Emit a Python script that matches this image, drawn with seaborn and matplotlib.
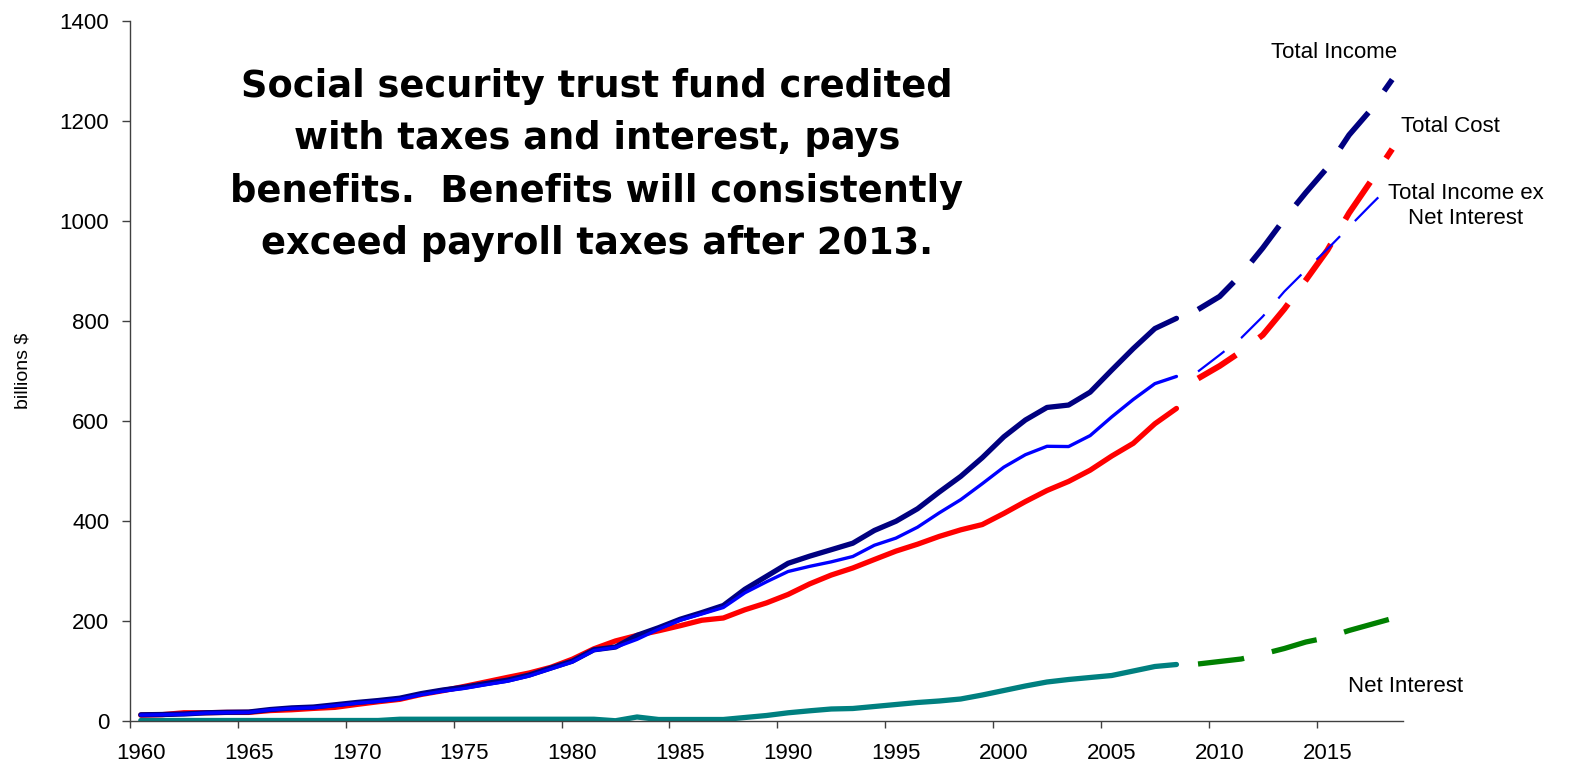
import matplotlib
matplotlib.use("Agg")
import matplotlib.pyplot as plt
import seaborn as sns
import pandas as pd

# Social Security (OASDI) trust fund operations, billions of dollars
hist_years = list(range(1960, 2009))
proj_years = list(range(2009, 2019))

total_income_hist = [
    12.4, 13.0, 14.0, 16.4, 17.4, 17.9, 22.9, 26.2, 27.9, 32.4,
    37.0, 40.9, 45.6, 54.8, 62.0, 67.6, 75.0, 81.7, 91.9, 105.9,
    119.7, 142.4, 147.9, 171.3, 186.6, 203.5, 216.8, 231.0, 263.5, 289.4,
    315.4, 329.7, 342.6, 355.6, 381.1, 399.5, 424.5, 457.7, 489.2, 526.6,
    568.4, 602.0, 627.1, 631.9, 657.7, 701.8, 744.9, 784.9, 805.3,
]
income_ex_interest_hist = [
    11.9, 12.5, 13.5, 15.9, 16.8, 17.3, 22.3, 25.2, 26.6, 30.8,
    35.5, 39.1, 43.6, 52.6, 59.5, 65.2, 72.6, 79.6, 90.0, 104.0,
    117.9, 140.8, 147.3, 163.3, 183.6, 201.6, 214.0, 227.0, 256.4, 278.4,
    299.0, 309.3, 318.3, 329.0, 351.5, 365.8, 387.6, 416.1, 442.6, 474.6,
    507.7, 532.6, 549.4, 548.9, 570.8, 608.2, 643.1, 674.7, 689.1,
]
total_cost_hist = [
    11.8, 12.7, 16.5, 16.5, 17.2, 17.2, 20.9, 22.5, 25.2, 27.3,
    33.1, 38.5, 43.3, 53.1, 60.6, 69.2, 78.2, 87.3, 96.0, 107.3,
    123.6, 144.4, 160.1, 171.2, 180.4, 190.6, 201.5, 206.0, 222.5, 236.2,
    253.1, 274.2, 291.9, 306.0, 323.0, 339.8, 353.6, 369.1, 382.3, 392.9,
    415.1, 438.9, 461.0, 479.1, 501.6, 529.9, 555.4, 594.5, 625.1,
]
net_interest_hist = [
    1.0, 1.0, 1.0, 1.0, 1.0, 1.0, 1.0, 1.0, 1.0, 1.0,
    1.0, 1.0, 3.5, 3.5, 3.5, 3.5, 3.5, 3.5, 3.5, 3.5,
    3.5, 3.5, 0.5, 8.0, 3.0, 3.0, 3.0, 3.0, 7.0, 11.0,
    16.4, 20.4, 24.0, 25.0, 29.0, 33.0, 37.0, 40.0, 44.0, 52.0,
    61.0, 70.0, 78.0, 83.0, 87.0, 91.0, 100.0, 109.0, 113.0,
]

total_income_proj = [823, 849, 893, 946, 1004, 1057, 1107, 1172, 1222, 1283]
income_ex_interest_proj = [699, 732, 766, 809, 859, 902, 944, 988, 1032, 1075]
total_cost_proj = [685, 710, 739, 772, 824, 882, 942, 1016, 1079, 1144]
net_interest_proj = [114, 119, 124, 134, 145, 158, 167, 181, 193, 205]

tick_years = [1960, 1965, 1970, 1975, 1980, 1985, 1990, 1995, 2000, 2005, 2010, 2015]
y_ticks = [0, 200, 400, 600, 800, 1000, 1200, 1400]

headline = ("Social security trust fund credited\n"
            "with taxes and interest, pays\n"
            "benefits.  Benefits will consistently\n"
            "exceed payroll taxes after 2013.")

NAVY, BLUE, RED, TEAL, GREEN = "#000080", "#0000FF", "#FF0000", "#008080", "#008000"

sns.set_theme(style="white")
plt.rcParams["font.family"] = ["Liberation Sans", "DejaVu Sans"]
plt.rcParams["text.color"] = "black"

fig = plt.figure(figsize=(15.7, 7.7), dpi=100)
ax = fig.add_axes([130 / 1570, 1 - 721 / 770, (1403 - 130) / 1570, 700 / 770])

hist = pd.DataFrame({
    "year": hist_years,
    "income": total_income_hist,
    "ex_interest": income_ex_interest_hist,
    "cost": total_cost_hist,
    "interest": net_interest_hist,
})
proj = pd.DataFrame({
    "year": proj_years,
    "income": total_income_proj,
    "ex_interest": income_ex_interest_proj,
    "cost": total_cost_proj,
    "interest": net_interest_proj,
})

# historical series: solid lines
solid_specs = [
    ("interest", TEAL, 3.8),
    ("cost", RED, 3.8),
    ("income", NAVY, 3.8),
    ("ex_interest", BLUE, 2.4),
]
for col, color, lw in solid_specs:
    sns.lineplot(data=hist, x="year", y=col, ax=ax, color=color, linewidth=lw,
                 solid_capstyle="round", solid_joinstyle="round")

# projected series: long dashes
dash_specs = [
    ("interest", GREEN, 3.8, (8.8, 5.4)),
    ("cost", RED, 4.3, (7.5, 4.8)),
    ("income", NAVY, 4.0, (8.2, 4.8)),
    ("ex_interest", BLUE, 1.6, (15.0, 9.5)),
]
for col, color, lw, dash in dash_specs:
    sns.lineplot(data=proj, x="year", y=col, ax=ax, color=color, linewidth=lw)
    line = ax.lines[-1]
    line.set_dashes(dash)
    line.set_dash_capstyle("butt")

# category-style x axis: tick marks between years, labels centred on years
ax.set_xlim(1959.5, 2018.5)
ax.set_ylim(0, 1400)
ax.set_xticks([y - 0.5 for y in tick_years])
ax.set_xticklabels([""] * len(tick_years))
ax.set_xticks(tick_years, minor=True)
ax.set_xticklabels([str(y) for y in tick_years], minor=True)
ax.set_yticks(y_ticks)
ax.set_yticklabels([str(v) for v in y_ticks])

ax.tick_params(axis="x", which="major", length=5, width=1, color="#404040",
               direction="out", bottom=True)
ax.tick_params(axis="x", which="minor", length=0, labelsize=16, pad=16,
               labelcolor="black", bottom=True)
ax.tick_params(axis="y", which="major", length=6, width=1, color="#404040",
               direction="out", left=True, labelsize=16, pad=9,
               labelcolor="black")
ax.set_xlabel("")
ax.set_ylabel("billions $", fontsize=14, color="black")
ax.yaxis.set_label_coords(-0.077, 0.5)

for side in ["top", "right"]:
    ax.spines[side].set_visible(False)
for side in ["left", "bottom"]:
    ax.spines[side].set_color("#404040")
    ax.spines[side].set_linewidth(1.0)

label_kw = dict(fontsize=16, ha="center", va="center", clip_on=False, color="black")
ax.text(2015.3, 1336, "Total Income", **label_kw)
ax.text(2020.7, 1190, "Total Cost", **label_kw)
ax.text(2021.4, 1030, "Total Income ex\nNet Interest", linespacing=1.2, **label_kw)
ax.text(2018.6, 70, "Net Interest", **label_kw)

fig.text(597 / 1570, 1 - 165 / 770, headline, ha="center", va="center",
         fontsize=26.5, fontweight="bold", linespacing=1.52, color="black",
         family=["DejaVu Sans"])

fig.savefig("out.png", dpi=100)
